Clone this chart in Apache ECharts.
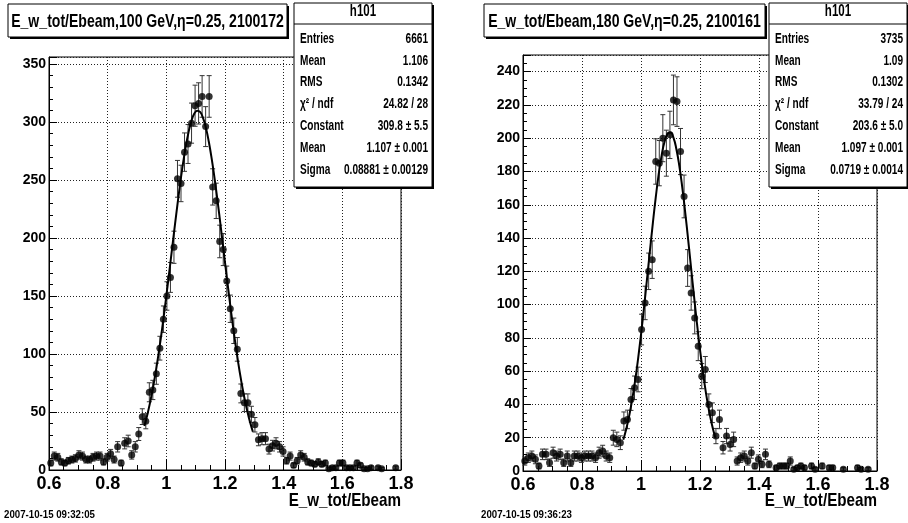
<!DOCTYPE html>
<html><head><meta charset="utf-8">
<script src="https://cdn.jsdelivr.net/npm/echarts@6/dist/echarts.min.js"></script>
<style>html,body{margin:0;padding:0;background:#fff}#c{width:908px;height:523px}</style>
</head><body><div id="c"></div>
<script>
// ---------------- data ----------------
const binCenters = [0.606,0.618,0.630,0.642,0.654,0.666,0.678,0.690,0.702,0.714,
  0.726,0.738,0.750,0.762,0.774,0.786,0.798,0.810,0.822,0.834,
  0.846,0.858,0.870,0.882,0.894,0.906,0.918,0.930,0.942,0.954,
  0.966,0.978,0.990,1.002,1.014,1.026,1.038,1.050,1.062,1.074,
  1.086,1.098,1.110,1.122,1.134,1.146,1.158,1.170,1.182,1.194,
  1.206,1.218,1.230,1.242,1.254,1.266,1.278,1.290,1.302,1.314,
  1.326,1.338,1.350,1.362,1.374,1.386,1.398,1.410,1.422,1.434,
  1.446,1.458,1.470,1.482,1.494,1.506,1.518,1.530,1.542,1.554,
  1.566,1.578,1.590,1.602,1.614,1.626,1.638,1.650,1.662,1.674,
  1.686,1.698,1.710,1.722,1.734,1.746,1.758,1.770,1.782,1.794];

const counts100 = [6,12,11,7,6,8,9,10,13,12,
  9,9,11,12,12,7,11,14,9,20,
  6,23,25,13,20,31,46,42,67,69,
  83,105,130,150,166,192,251,247,274,281,
  299,314,316,322,296,322,244,232,197,190,
  163,139,120,104,66,58,58,48,39,26,
  27,27,18,21,23,20,16,8,12,4,
  8,13,11,7,6,5,7,5,6,1,
  2,2,6,6,2,2,2,6,4,1,
  1,2,0,2,1,0,0,0,2,0];

const counts180 = [6,8,9,7,3,10,10,5,11,9,
  10,5,9,5,9,9,8,9,9,9,
  8,11,12,9,8,20,19,17,30,31,
  43,50,55,85,101,120,127,186,185,200,
  191,202,223,222,192,165,122,107,92,75,
  57,61,40,35,21,31,14,21,16,19,
  6,8,9,6,11,3,7,4,10,4,
  0,2,3,3,3,6,1,2,3,2,
  0,3,1,0,3,0,2,2,0,0,
  1,0,0,0,2,1,0,1,0,0];

const fitX100 = [0.925,0.935,0.945,0.955,0.965,0.975,0.985,0.995,1.005,1.015,1.025,1.035,1.045,1.055,1.065,1.075,1.085,1.095,1.105,1.115,1.125,1.135,1.145,1.155,1.165,1.175,1.185,1.195,1.205,1.215,1.225,1.235,1.245,1.255,1.265,1.275,1.285,1.295];
const fitY100 = [38.0,47.5,58.7,71.6,86.3,102.7,120.6,139.9,160.2,181.2,202.3,223.0,242.8,261.0,277.0,290.3,300.4,307.0,309.7,308.6,303.5,294.8,282.7,267.7,250.3,231.1,210.7,189.6,168.5,147.9,128.2,109.7,92.6,77.3,63.6,51.8,41.6,33.0];

const fitX180 = [0.94,0.95,0.96,0.97,0.98,0.99,1.00,1.01,1.02,1.03,1.04,1.05,1.06,1.07,1.08,1.09,1.10,1.11,1.12,1.13,1.14,1.15,1.16,1.17,1.18,1.19,1.20,1.21,1.22,1.23,1.24,1.25,1.252];
const fitY180 = [18.8,25.2,33.2,42.8,54.2,67.3,82.0,97.9,114.7,131.9,148.7,164.4,178.4,189.7,198.0,202.6,203.4,200.3,193.4,183.3,170.3,155.2,138.7,121.6,104.6,88.2,73.0,59.2,47.1,36.8,28.2,21.2,19.9];

const xTickLabels = ['0.6','0.8','1','1.2','1.4','1.6','1.8'];
const yTickLabels100 = ['0','50','100','150','200','250','300','350'];
const yTickLabels180 = ['0','20','40','60','80','100','120','140','160','180','200','220','240'];

const titles = ['E_w_tot/Ebeam,100 GeV,\u03b7=0.25, 2100172', 'E_w_tot/Ebeam,180 GeV,\u03b7=0.25, 2100161'];
const statHeader = 'h101';
const statNames = ['Entries','Mean','RMS','\u03c7\u00b2 / ndf','Constant','Mean','Sigma'];
const stats100 = ['6661','1.106','0.1342','24.82 / 28','309.8 \u00b1 5.5','1.107 \u00b1 0.001','0.08881 \u00b1 0.00129'];
const stats180 = ['3735','1.09','0.1302','33.79 / 24','203.6 \u00b1 5.0','1.097 \u00b1 0.001','0.0719 \u00b1 0.0014'];
const xTitle = 'E_w_tot/Ebeam';
const dates = ['2007-10-15 09:32:05', '2007-10-15 09:36:23'];

// ---------------- drawing ----------------
const FONT = "'Liberation Sans',Arial,sans-serif";
const chart = echarts.init(document.getElementById('c'), null, {renderer: 'canvas'});

const panels = [
  {grid: {left: 49, top: 57, width: 352, height: 413}, ymax: 356, yInt: 50, yMinor: 10, yLabels: yTickLabels100,
   counts: counts100, fx: fitX100, fy: fitY100,
   titleBox: {x: 8, y: 4, w: 279, h: 33}, statBox: {x: 294, y: 3, w: 138, h: 184}, stats: stats100, date: {x: 4, y: 515}},
  {grid: {left: 523, top: 55, width: 354, height: 416}, ymax: 250, yInt: 20, yMinor: 5, yLabels: yTickLabels180,
   counts: counts180, fx: fitX180, fy: fitY180,
   titleBox: {x: 484, y: 4, w: 281, h: 33}, statBox: {x: 769, y: 3, w: 138, h: 184}, stats: stats180, date: {x: 481, y: 515}}
];

function txt(x, y, text, size, align, sx, z) {
  return {type: 'text', x: x, y: y, scaleX: sx, z: z || 12,
    style: {text: text, fill: '#000', fontFamily: FONT, fontWeight: 'bold', fontSize: size, align: align, verticalAlign: 'middle'}};
}

const grids = [], xAxes = [], yAxes = [], series = [], graphics = [];

panels.forEach((p, k) => {
  grids.push(Object.assign({show: true, borderColor: '#000', borderWidth: 1, backgroundColor: 'transparent'}, p.grid));
  xAxes.push({
    type: 'value', gridIndex: k, min: 0.6, max: 1.8, interval: 0.2,
    axisLine: {show: true, onZero: false, lineStyle: {color: '#000', width: 1}},
    axisTick: {show: true, inside: true, length: 11, lineStyle: {color: '#000', width: 1}},
    minorTick: {show: true, splitNumber: 4, length: 5, lineStyle: {color: '#000', width: 1}},
    splitLine: {show: true, lineStyle: {type: [1, 2], color: '#222', width: 1}},
    axisLabel: {color: '#000', fontFamily: FONT, fontWeight: 'bold', fontSize: 18, margin: 5,
      formatter: v => { const s = xTickLabels.find(t => Math.abs(parseFloat(t) - v) < 1e-6); return s || ''; }}
  });
  yAxes.push({
    type: 'value', gridIndex: k, min: 0, max: p.ymax, interval: p.yInt, position: 'left',
    axisLine: {show: true, onZero: false, lineStyle: {color: '#000', width: 1}},
    axisTick: {show: true, inside: true, length: 8, lineStyle: {color: '#000', width: 1}},
    splitLine: {show: true, lineStyle: {type: [1, 2], color: '#222', width: 1}},
    axisLabel: {color: '#000', fontFamily: FONT, fontWeight: 'bold', fontSize: 14, margin: 3,
      formatter: v => { const s = p.yLabels.find(t => Math.abs(parseFloat(t) - v) < 1e-6); return s || ''; }}
  });
  yAxes.push({
    type: 'value', gridIndex: k, min: 0, max: p.ymax, interval: p.yMinor, position: 'left',
    axisLine: {show: false}, splitLine: {show: false}, axisLabel: {show: false},
    axisTick: {show: true, inside: true, length: 4, lineStyle: {color: '#000', width: 1}}
  });

  const pts = [];
  p.counts.forEach((c, i) => { if (c > 0) pts.push([binCenters[i], c]); });

  series.push({
    type: 'custom', xAxisIndex: k, yAxisIndex: 2 * k, data: pts, silent: true, z: 3,
    renderItem: (params, api) => {
      const x = api.value(0), y = api.value(1), e = Math.sqrt(y);
      const top = api.coord([x, y + e]);
      const bot = api.coord([x, Math.max(0, y - e)]);
      const st = {stroke: '#333', lineWidth: 1};
      return {type: 'group', children: [
        {type: 'line', shape: {x1: top[0], y1: top[1], x2: bot[0], y2: bot[1]}, style: st},
        {type: 'line', shape: {x1: top[0] - 2.5, y1: top[1], x2: top[0] + 2.5, y2: top[1]}, style: st},
        {type: 'line', shape: {x1: bot[0] - 2.5, y1: bot[1], x2: bot[0] + 2.5, y2: bot[1]}, style: st}
      ]};
    }
  });
  series.push({
    type: 'scatter', xAxisIndex: k, yAxisIndex: 2 * k, data: pts, symbol: 'circle', symbolSize: 7,
    itemStyle: {color: '#000'}, silent: true, z: 4, clip: false
  });
  series.push({
    type: 'line', xAxisIndex: k, yAxisIndex: 2 * k, data: p.fx.map((x, i) => [x, p.fy[i]]),
    showSymbol: false, smooth: true, lineStyle: {color: '#000', width: 2}, silent: true, z: 5
  });

  // title box
  const tb = p.titleBox;
  graphics.push({type: 'rect', shape: {x: tb.x + 2, y: tb.y + 2, width: tb.w, height: tb.h}, style: {fill: '#000'}, z: 10});
  graphics.push({type: 'rect', shape: {x: tb.x, y: tb.y, width: tb.w, height: tb.h}, style: {fill: '#fff', stroke: '#000', lineWidth: 1}, z: 11});
  graphics.push(txt(tb.x + tb.w / 2, tb.y + tb.h / 2 + 1, titles[k], 19, 'center', 0.74));

  // stat box
  const sb = p.statBox;
  graphics.push({type: 'rect', shape: {x: sb.x + 2, y: sb.y + 2, width: sb.w, height: sb.h}, style: {fill: '#000'}, z: 10});
  graphics.push({type: 'rect', shape: {x: sb.x, y: sb.y, width: sb.w, height: sb.h}, style: {fill: '#fff', stroke: '#000', lineWidth: 1}, z: 11});
  graphics.push({type: 'line', shape: {x1: sb.x, y1: sb.y + 21, x2: sb.x + sb.w, y2: sb.y + 21}, style: {stroke: '#000', lineWidth: 1}, z: 12});
  graphics.push(txt(sb.x + sb.w / 2, sb.y + 9, statHeader, 16, 'center', 0.72));
  statNames.forEach((n, r) => {
    const yy = sb.y + 36 + r * 21.8;
    graphics.push(txt(sb.x + 6, yy, n, 14, 'left', 0.72));
    graphics.push(txt(sb.x + sb.w - 4, yy, p.stats[r], 14, 'right', 0.72));
  });

  // axis title
  graphics.push(txt(p.grid.left + p.grid.width, 501, xTitle, 19, 'right', 0.8));
  // date
  graphics.push(txt(p.date.x, p.date.y, dates[k], 11, 'left', 0.88));
});

chart.setOption({
  animation: false,
  backgroundColor: '#fff',
  grid: grids, xAxis: xAxes, yAxis: yAxes, series: series,
  graphic: graphics
});
</script>
</body></html>
